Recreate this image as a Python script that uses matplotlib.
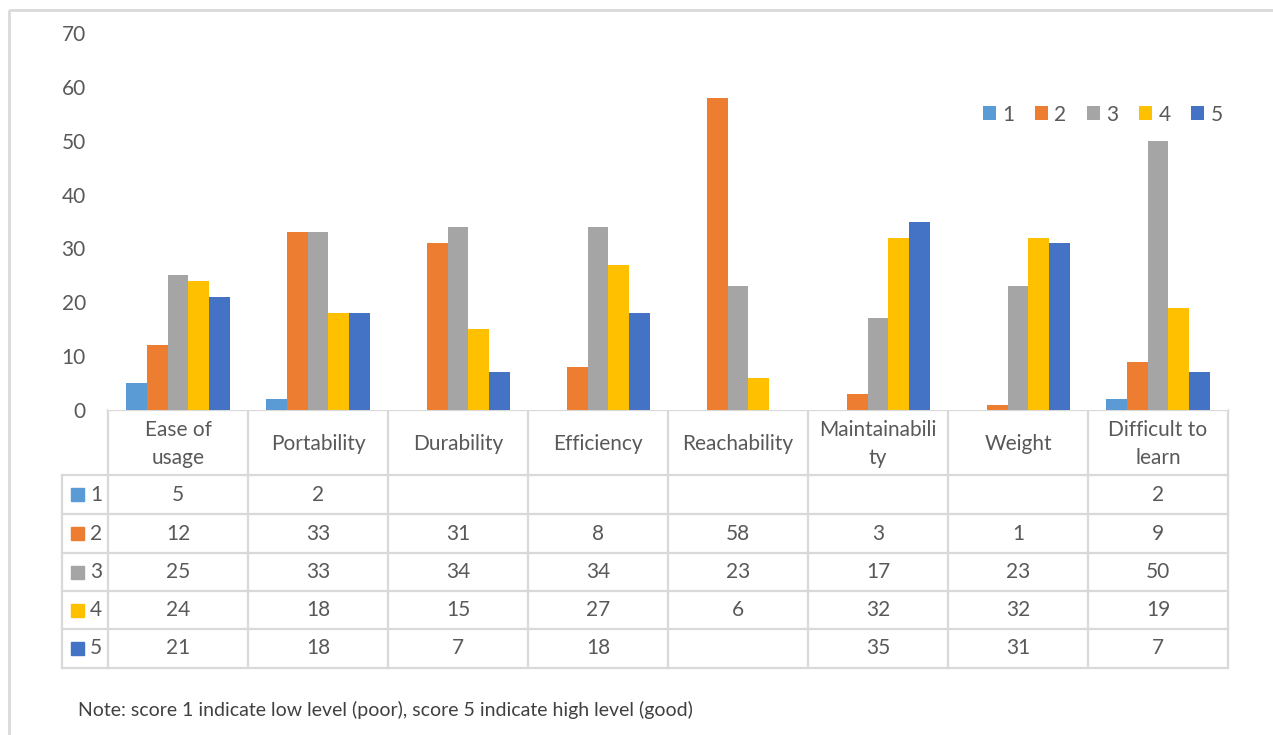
import matplotlib
matplotlib.use("Agg")
import matplotlib.pyplot as plt
from matplotlib.patches import Rectangle
import numpy as np

plt.rcParams['font.family'] = ['Lato', 'DejaVu Sans']

# data
categories = ["Ease of\nusage", "Portability", "Durability", "Efficiency",
              "Reachability", "Maintainabili\nty", "Weight", "Difficult to\nlearn"]
series_names = ["1", "2", "3", "4", "5"]
score1 = [5, 2, None, None, None, None, None, 2]
score2 = [12, 33, 31, 8, 58, 3, 1, 9]
score3 = [25, 33, 34, 34, 23, 17, 23, 50]
score4 = [24, 18, 15, 27, 6, 32, 32, 19]
score5 = [21, 18, 7, 18, None, 35, 31, 7]
series = [score1, score2, score3, score4, score5]
note = "Note: score 1 indicate low level (poor), score 5 indicate high level (good)"

colors = ["#5B9BD5", "#ED7D31", "#A5A5A5", "#FFC000", "#4472C4"]
txt = "#595959"
grid = "#D9D9D9"
fs = 15

W, H = 1273, 735
fig = plt.figure(figsize=(W / 100, H / 100), dpi=100)

# overlay in pixel coordinates for the frame and data table
ov = fig.add_axes([0, 0, 1, 1])
ov.set_xlim(0, W)
ov.set_ylim(H, 0)
ov.axis("off")
ov.add_patch(Rectangle((9, 10), W + 20, H + 20, fill=False, ec=grid, lw=2))

# bar chart
x0, x1, ytop, ybot = 108, 1228, 33, 410
ax = fig.add_axes([x0 / W, 1 - ybot / H, (x1 - x0) / W, (ybot - ytop) / H])
x = np.arange(len(categories))
bw = 0.149
for i, (name, vals) in enumerate(zip(series_names, series)):
    v = [np.nan if a is None else a for a in vals]
    ax.bar(x + (i - 2) * bw, v, bw, color=colors[i], label=name)
ax.set_xlim(-0.5, len(categories) - 0.5)
ax.set_ylim(0, 70)
ax.set_yticks(range(0, 71, 10))
ax.set_xticks([])
for s in ax.spines.values():
    s.set_visible(False)
ax.tick_params(axis="y", length=0, pad=16, labelsize=fs, labelcolor=txt)
ax.legend(loc="upper right", bbox_to_anchor=(1.012, 0.86), ncol=5, frameon=False,
          handlelength=0.62, handleheight=0.62, handletextpad=0.3,
          columnspacing=1.0, fontsize=fs, labelcolor=txt)

# data table
colw = (x1 - x0) / len(categories)
row_edges = [410, 475, 514, 553, 591, 629, 668]
lab_x = 62
ov.plot([x0, x1], [row_edges[0]] * 2, color=grid, lw=1.6)
for y in row_edges[1:]:
    ov.plot([lab_x, x1], [y, y], color=grid, lw=1.6)
for j in range(len(categories) + 1):
    ov.plot([x0 + j * colw] * 2, [row_edges[0], row_edges[-1]], color=grid, lw=1.6)
ov.plot([lab_x, lab_x], [row_edges[1], row_edges[-1]], color=grid, lw=1.6)

for j, c in enumerate(categories):
    ov.text(x0 + (j + 0.5) * colw, (row_edges[0] + row_edges[1]) / 2 + 1, c,
            ha="center", va="center", fontsize=fs, color=txt, linespacing=1.5)

for i, (name, vals) in enumerate(zip(series_names, series)):
    yc = (row_edges[i + 1] + row_edges[i + 2]) / 2
    ov.add_patch(Rectangle((71, yc - 6.5), 13, 13, color=colors[i]))
    ov.text(90, yc, name, ha="left", va="center", fontsize=fs, color=txt)
    for j, v in enumerate(vals):
        if v is not None:
            ov.text(x0 + (j + 0.5) * colw, yc, str(v), ha="center", va="center",
                    fontsize=fs, color=txt)

ov.text(78, 710, note, ha="left", va="center", fontsize=14, color="#404040")

fig.savefig("out.png", dpi=100)
